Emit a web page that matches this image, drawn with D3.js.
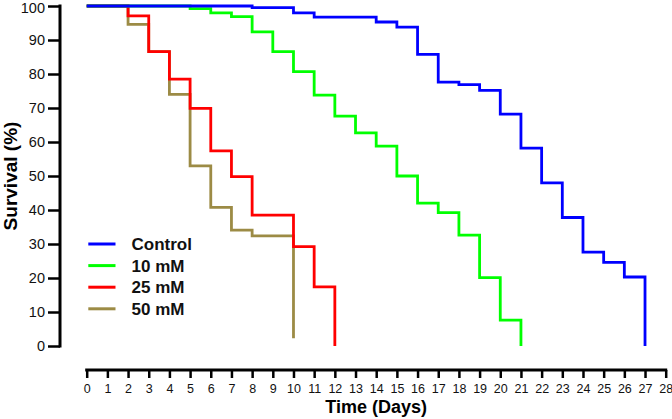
<!DOCTYPE html>
<html>
<head>
<meta charset="utf-8">
<script src="https://cdn.jsdelivr.net/npm/d3@7"></script>
<style>
  body { margin: 0; background: #fff; }
  svg { display: block; }
  text { font-family: "Liberation Sans", Arial, sans-serif; }
</style>
</head>
<body>
<svg id="chart" width="672" height="419"></svg>
<script>
// ---- Data ----
const seriesNames = ["Control", "10 mM", "25 mM", "50 mM"];
const controlDays = [0, 8, 10, 11, 14, 15, 16, 17, 18, 19, 20, 21, 22, 23, 24, 25, 26, 27];
const controlSurv = [100, 99.5, 98, 96.7, 95.3, 93.8, 85.8, 77.6, 76.9, 75.2, 68.2, 58.2, 48, 37.8, 27.6, 24.6, 20.3, 0];
const mM10Days = [0, 5, 6, 7, 8, 9, 10, 11, 12, 13, 14, 15, 16, 17, 18, 19, 20, 21];
const mM10Surv = [100, 99.2, 98, 96.9, 92.4, 86.6, 80.7, 73.8, 67.6, 62.7, 58.8, 50, 42, 39.2, 32.6, 20.1, 7.6, 0];
const mM25Days = [0, 2, 3, 4, 5, 6, 7, 8, 10, 11, 12];
const mM25Surv = [100, 97.1, 86.6, 78.5, 69.9, 57.4, 49.8, 38.5, 29.2, 17.4, 0];
const mM50Days = [0, 2, 3, 4, 5, 6, 7, 8, 10];
const mM50Surv = [100, 94.6, 86.6, 74.0, 53.0, 40.8, 34.1, 32.4, 2.3];
const xTicks = d3.range(0, 29, 1);
const yTicks = d3.range(0, 101, 10);

const colors = ["#0000ff", "#00ff00", "#ff0000", "#9c8b45"];
const seriesDays = [controlDays, mM10Days, mM25Days, mM50Days];
const seriesSurv = [controlSurv, mM10Surv, mM25Surv, mM50Surv];

// ---- Layout ----
const svg = d3.select("#chart");
const x = d3.scaleLinear().domain([0, 28]).range([86.7, 665.7]);
const y = d3.scaleLinear().domain([0, 100]).range([346, 6]);
const yAxisX = 60;
const xAxisY = 370;

// Y axis
const yAxis = svg.append("g")
  .attr("transform", `translate(${yAxisX},0)`)
  .call(d3.axisLeft(y).tickValues(yTicks).tickSize(12).tickPadding(3).tickFormat(d3.format("d")));
yAxis.select(".domain").attr("d", `M0,${y(100) - 1.5}V${y(0) + 1.5}`).attr("stroke", "#000").attr("stroke-width", 3);
yAxis.selectAll(".tick line").attr("stroke", "#000").attr("stroke-width", 2.5);
yAxis.selectAll(".tick text").attr("font-size", 14.5).attr("fill", "#111")
  .attr("dy", d => d === 100 ? "0.42em" : "0.32em");

// X axis
const xAxis = svg.append("g")
  .attr("transform", `translate(0,${xAxisY})`)
  .call(d3.axisBottom(x).tickValues(xTicks).tickSize(8).tickPadding(6).tickFormat(d3.format("d")));
xAxis.select(".domain").attr("d", `M${x(0) - 1.5},0H${x(28) + 1.5}`).attr("stroke", "#000").attr("stroke-width", 3);
xAxis.selectAll(".tick line").attr("stroke", "#000").attr("stroke-width", 2.5);
xAxis.selectAll(".tick text").attr("font-size", 12.5).attr("fill", "#111");

// Axis titles
svg.append("text")
  .attr("x", (x(0) + x(28)) / 2).attr("y", 413)
  .attr("text-anchor", "middle").attr("font-size", 18).attr("font-weight", "bold")
  .text("Time (Days)");
svg.append("text")
  .attr("transform", `translate(16.5,${(y(0) + y(100)) / 2}) rotate(-90)`)
  .attr("text-anchor", "middle").attr("font-size", 19).attr("font-weight", "bold")
  .text("Survival (%)");

// Curves (draw in reverse order so Control is on top)
const line = d3.line().x(d => x(d[0])).y(d => y(d[1])).curve(d3.curveStepAfter);
for (let i = seriesNames.length - 1; i >= 0; i--) {
  const pts = seriesDays[i].map((d, j) => [d, seriesSurv[i][j]]);
  svg.append("path")
    .datum(pts)
    .attr("d", line)
    .attr("fill", "none")
    .attr("stroke", colors[i])
    .attr("stroke-width", 2.8)
    .attr("stroke-linejoin", "miter")
    .attr("stroke-linecap", "butt");
}

// Legend
const legend = svg.append("g");
seriesNames.forEach((name, i) => {
  const cy = 244 + i * 21.6;
  legend.append("line")
    .attr("x1", 88.3).attr("x2", 115.5).attr("y1", cy).attr("y2", cy)
    .attr("stroke", colors[i]).attr("stroke-width", 3);
  legend.append("text")
    .attr("x", 131.5).attr("y", cy + 6)
    .attr("font-size", 17).attr("font-weight", "bold").attr("fill", "#111")
    .text(name);
});
</script>
</body>
</html>
